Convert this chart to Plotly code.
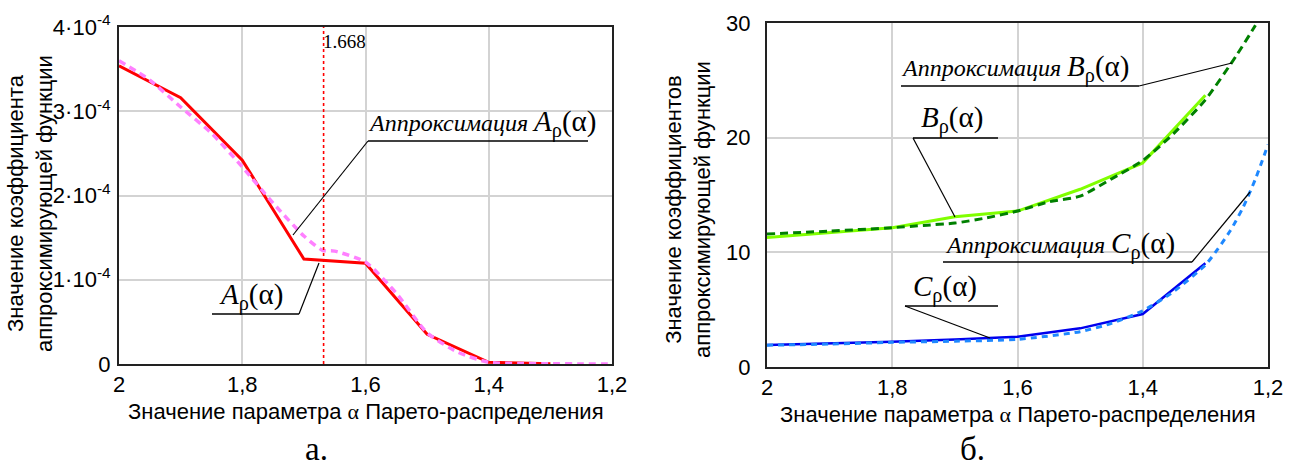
import plotly.graph_objects as go

# ---------------- data ----------------
# panel a
alpha_A = [2.0, 1.9, 1.8, 1.7, 1.6, 1.5, 1.4, 1.3]
A_rho = [3.54e-4, 3.16e-4, 2.42e-4, 1.246e-4, 1.195e-4, 0.352e-4, 0.02e-4, 0.003e-4]

alpha_A_apx = [2.0, 1.95, 1.9, 1.85, 1.8, 1.75, 1.7, 1.67, 1.65, 1.6, 1.55, 1.5,
               1.45, 1.4, 1.35, 1.3, 1.25, 1.2]
A_rho_apx = [3.60e-4, 3.37e-4, 3.05e-4, 2.74e-4, 2.34e-4, 1.91e-4, 1.52e-4, 1.35e-4,
             1.34e-4, 1.21e-4, 0.84e-4, 0.37e-4, 0.14e-4, 0.02e-4, 0.006e-4,
             0.003e-4, 0.001e-4, 0.0]
alpha_mark = 1.668

# panel b
alpha_BC = [2.0, 1.9, 1.8, 1.7, 1.6, 1.5, 1.4, 1.3]
B_rho = [11.3, 11.75, 12.15, 13.1, 13.6, 15.5, 17.8, 23.7]
C_rho = [1.92, 2.05, 2.2, 2.4, 2.64, 3.37, 4.62, 9.04]

alpha_B_apx = [2.0, 1.9, 1.8, 1.75, 1.7, 1.65, 1.6, 1.55, 1.5, 1.45, 1.4, 1.35,
               1.3, 1.25, 1.22]
B_rho_apx = [11.6, 11.85, 12.15, 12.35, 12.55, 13.0, 13.6, 14.4, 14.9, 16.4, 18.0,
             20.4, 23.3, 27.2, 29.8]

alpha_C_apx = [2.0, 1.9, 1.8, 1.7, 1.6, 1.5, 1.45, 1.4, 1.35, 1.3, 1.28, 1.26,
               1.24, 1.22, 1.2]
C_rho_apx = [1.9, 2.0, 2.15, 2.25, 2.41, 3.08, 3.8, 4.9, 6.6, 8.9, 10.3, 11.9,
             13.9, 16.4, 19.4]

x_tickvals = [2.0, 1.8, 1.6, 1.4, 1.2]
x_ticktext = ["2", "1,8", "1,6", "1,4", "1,2"]
yA_tickvals = [0, 1e-4, 2e-4, 3e-4, 4e-4]
yA_ticktext = ["0", "1·10<sup>-4</sup>", "2·10<sup>-4</sup>", "3·10<sup>-4</sup>", "4·10<sup>-4</sup>"]
yB_tickvals = [0, 10, 20, 30]
yB_ticktext = ["0", "10", "20", "30"]

# ---------------- layout helpers ----------------
W, H = 1289, 468
def px(x):
    return x / W
def py(y):
    return 1 - y / H

SANS = "Liberation Sans"
SERIF = "Liberation Serif"
TICK = dict(family=SANS, size=22, color="black")

fig = go.Figure()

fig.add_trace(go.Scatter(x=alpha_A, y=A_rho, mode="lines", xaxis="x", yaxis="y",
                         line=dict(color="#ff0000", width=3), showlegend=False))
fig.add_trace(go.Scatter(x=alpha_A_apx, y=A_rho_apx, mode="lines", xaxis="x", yaxis="y",
                         line=dict(color="#ff80ff", width=3.5, dash="7px,5px",
                                   shape="spline", smoothing=0.6),
                         showlegend=False))

fig.add_trace(go.Scatter(x=alpha_BC, y=B_rho, mode="lines", xaxis="x2", yaxis="y2",
                         line=dict(color="#80ff00", width=3), showlegend=False))
fig.add_trace(go.Scatter(x=alpha_B_apx, y=B_rho_apx, mode="lines", xaxis="x2", yaxis="y2",
                         line=dict(color="#008000", width=3, dash="8px,5px",
                                   shape="spline", smoothing=0.6),
                         showlegend=False))
fig.add_trace(go.Scatter(x=alpha_BC, y=C_rho, mode="lines", xaxis="x2", yaxis="y2",
                         line=dict(color="#0000ee", width=2.5), showlegend=False))
fig.add_trace(go.Scatter(x=alpha_C_apx, y=C_rho_apx, mode="lines", xaxis="x2", yaxis="y2",
                         line=dict(color="#1e88ff", width=3, dash="6px,5px",
                                   shape="spline", smoothing=0.6),
                         showlegend=False))

axis_common = dict(
    range=[2.0, 1.2], tickvals=x_tickvals, ticktext=x_ticktext,
    showgrid=True, gridcolor="#d3d3d3", gridwidth=1.5,
    showline=True, linecolor="#222", linewidth=2, mirror=True,
    zeroline=False, ticks="", tickfont=TICK, automargin=False,
)

fig.update_layout(
    template="none",
    width=W, height=H,
    margin=dict(l=0, r=0, t=0, b=0, pad=0),
    paper_bgcolor="white", plot_bgcolor="white",
    xaxis=dict(domain=[px(119), px(612)], anchor="y", **axis_common),
    yaxis=dict(domain=[py(364), py(27)], anchor="x", range=[0, 4e-4],
               tickvals=yA_tickvals, ticktext=yA_ticktext,
               showgrid=True, gridcolor="#d3d3d3", gridwidth=1.5,
               showline=True, linecolor="#222", linewidth=2, mirror=True,
               zeroline=False, ticks="", ticklabelstandoff=2, automargin=False,
               tickfont=TICK),
    xaxis2=dict(domain=[px(767), px(1268)], anchor="y2", **axis_common),
    yaxis2=dict(domain=[py(367), py(23)], anchor="x2", range=[0, 30],
                tickvals=yB_tickvals, ticktext=yB_ticktext,
                showgrid=True, gridcolor="#d3d3d3", gridwidth=1.5,
                showline=True, linecolor="#222", linewidth=2, mirror=True,
                zeroline=False, ticks="", ticklabelstandoff=10, automargin=False,
                tickfont=TICK),
)

shapes = []
annotations = []

# vertical marker line
shapes.append(dict(type="line", xref="x", yref="y", x0=alpha_mark, x1=alpha_mark,
                   y0=0, y1=4e-4, layer="above",
                   line=dict(color="rgb(255,0,0)", width=1.6, dash="dot")))
annotations.append(dict(xref="x", yref="paper", x=alpha_mark, y=py(41),
                        text=f"{alpha_mark:.3f}", showarrow=False,
                        xanchor="left", yanchor="middle", xshift=-3,
                        font=dict(family=SERIF, size=19, color="black")))

def seg(x0, y0, x1, y1, w=1.5):
    shapes.append(dict(type="line", xref="paper", yref="paper",
                       x0=px(x0), y0=py(y0), x1=px(x1), y1=py(y1),
                       line=dict(color="black", width=w)))

def label(x, y, text, anchor="left"):
    annotations.append(dict(xref="paper", yref="paper", x=px(x), y=py(y), text=text,
                            showarrow=False, xanchor=anchor, yanchor="middle",
                            font=dict(family=SERIF, size=24, color="black")))

def big(s):
    return f'<span style="font-size:29px">{s}</span>'

# panel a labels
label(366, 124, "<i>Аппроксимация</i> " + big("<i>A</i><sub>ρ</sub>(α)"))
seg(368, 141, 588, 141)
seg(368, 141, 293, 235, 1.2)

label(217, 296, big("<i>A</i><sub>ρ</sub>(α)"))
seg(212, 314, 299, 314)
seg(299, 314, 319, 263, 1.2)

# panel b labels
label(899, 68, "<i>Аппроксимация</i> " + big("<i>B</i><sub>ρ</sub>(α)"))
seg(901, 86, 1139, 86)
seg(1139, 86, 1232, 63, 1.2)

label(919, 120, big("<i>B</i><sub>ρ</sub>(α)"))
seg(913, 138, 998, 138)
seg(913, 138, 955, 217, 1.2)

label(943, 245, "<i>Аппроксимация</i> " + big("<i>C</i><sub>ρ</sub>(α)"))
seg(943, 262, 1192, 262)
seg(1192, 262, 1250, 192, 1.2)

label(911, 288, big("<i>C</i><sub>ρ</sub>(α)"))
seg(905, 306, 998, 306)
seg(905, 306, 990, 338, 1.2)

# axis titles
xt = 'Значение параметра <span style="font-family:Liberation Serif">α</span> Парето-распределения'
TITLE = dict(family=SANS, size=22, color="black")
annotations.append(dict(xref="paper", yref="paper", x=px(366), y=py(411), text=xt,
                        showarrow=False, xanchor="center", yanchor="middle", font=TITLE))
annotations.append(dict(xref="paper", yref="paper", x=px(1018), y=py(414), text=xt,
                        showarrow=False, xanchor="center", yanchor="middle", font=TITLE))
annotations.append(dict(xref="paper", yref="paper", x=px(30), y=py(204),
                        text="Значение коэффициента<br>аппроксимирующей функции",
                        showarrow=False, textangle=-90, xanchor="center", yanchor="middle",
                        font=TITLE))
annotations.append(dict(xref="paper", yref="paper", x=px(688), y=py(210),
                        text="Значение коэффициентов<br>аппроксимирующей функции",
                        showarrow=False, textangle=-90, xanchor="center", yanchor="middle",
                        font=TITLE))

# panel letters
annotations.append(dict(xref="paper", yref="paper", x=px(316), y=py(449), text="а.",
                        showarrow=False, xanchor="center", yanchor="middle",
                        font=dict(family=SERIF, size=33, color="black")))
annotations.append(dict(xref="paper", yref="paper", x=px(972), y=py(449), text="б.",
                        showarrow=False, xanchor="center", yanchor="middle",
                        font=dict(family=SERIF, size=33, color="black")))

fig.update_layout(shapes=shapes, annotations=annotations)
fig.write_html("out.html",
               config={"displayModeBar": False},
               post_script="document.body.style.margin='0';"
                           "document.body.style.overflow='hidden';")
